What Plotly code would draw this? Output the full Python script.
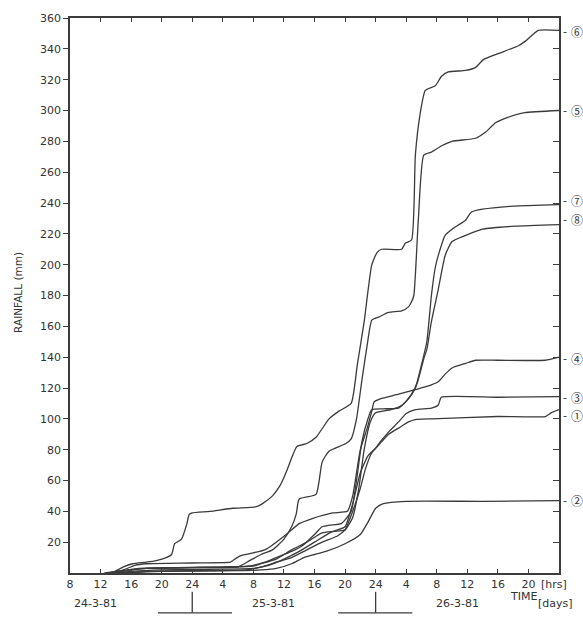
import plotly.graph_objects as go

# ---- data (hours counted from 00:00 on 24-3-81, cumulative rainfall in mm) ----
h6 = [13.5, 15.0, 16.2, 18.0, 19.3, 20.6, 21.3, 21.7, 22.6, 23.3, 23.6, 24.0, 26.3, 29.3, 32.4, 33.2, 34.5, 35.4, 36.0, 36.5,
      37.7, 39.0, 40.2, 41.9, 43.2, 44.8, 45.6, 46.5, 47.5, 48.2, 48.8, 51.4, 51.9, 52.7, 53.2, 53.8, 54.5, 55.8, 56.6, 57.5,
      59.8, 61.1, 62.1, 64.1, 66.7, 67.6, 69.3, 72.0]
r6 = [0, 4, 6, 7, 8, 10, 12, 19, 22, 32, 38, 39, 40, 42, 43, 45, 50, 56, 62, 68,
      82, 84, 88, 100, 105, 110, 135, 163, 200, 208, 210, 210, 214, 216, 271, 297, 313, 316, 322, 325,
      326, 328, 333, 337, 342, 345, 352, 352]

h5 = [14.0, 16.0, 18.0, 24.0, 30.0, 31.5, 33.0, 34.5, 36.0, 37.0, 37.6, 38.0, 40.2, 41.0, 41.9, 44.1, 44.8, 45.5, 46.2, 46.9,
      47.5, 48.4, 49.7, 51.4, 52.3, 52.7, 53.0, 53.6, 54.3, 55.3, 56.6, 58.0, 61.1, 62.4, 63.7, 65.3, 67.5, 72.0]
r5 = [0, 2, 3, 3.5, 4, 8, 12, 15, 22, 30, 38, 48, 51, 72, 79, 84, 87, 100, 125, 148,
      164, 166, 169, 170, 172.6, 176, 180, 230, 271, 273, 277, 280, 282, 286, 292, 295.5, 298.6, 300]

h7 = [12.5, 14.0, 16.0, 18.0, 24.0, 30.0, 32.0, 33.5, 35.0, 37.0, 38.5, 40.0, 41.0, 42.0, 43.5, 44.8, 45.5, 46.2, 47.0, 47.5,
      49.0, 51.0, 52.3, 53.2, 54.0, 54.7, 55.3, 55.8, 56.2, 57.1, 58.0, 59.8, 60.5, 62.0, 66.0, 72.0]
r7 = [0, 1, 2, 3, 3.5, 4, 5, 7, 10, 14, 18, 25, 30, 31, 32, 40, 60, 85, 100, 106,
      106.5, 107, 113, 120, 135, 150, 180, 198, 206, 219, 223, 229, 234, 236, 238, 239]

h8 = [13.0, 15.0, 17.0, 22.0, 28.0, 32.0, 33.0, 35.0, 37.0, 39.0, 41.0, 42.5, 44.0, 45.0, 45.8, 46.5, 47.3, 48.0, 50.0, 51.5,
      52.7, 53.5, 54.3, 54.7, 55.3, 56.2, 57.1, 58.0, 59.8, 62.0, 66.3, 72.0]
r8 = [0, 1.5, 3, 3.5, 4, 4.5, 6, 9, 15, 20, 26, 27, 28, 36, 55, 80, 98, 104, 106, 109,
      116, 124, 139, 145, 163, 184, 206, 215, 219, 223, 225, 226]

h4 = [13.5, 15.0, 16.5, 18.0, 24.0, 29.0, 29.3, 30.2, 32.8, 33.7, 36.3, 38.0, 39.8, 42.4, 44.3, 45.0, 46.0, 46.9, 47.5, 47.8,
      48.6, 51.0, 53.2, 54.7, 55.3, 56.2, 57.1, 58.0, 59.8, 61.1, 64.0, 70.2, 72.0]
r4 = [0, 2, 5, 6, 6.5, 7, 8, 11, 14, 15.5, 25, 32, 35.5, 39, 40, 50, 80, 94, 105, 111,
      113, 116, 119, 121, 122, 124, 129, 133, 136, 138, 138, 138, 140]

h3 = [14.0, 16.0, 20.0, 28.0, 32.0, 34.0, 36.0, 38.0, 40.0, 42.0, 43.0, 44.0, 45.0, 46.0, 47.0, 48.0, 48.6, 49.8, 51.0, 52.0,
      53.2, 55.3, 56.2, 56.6, 64.0, 72.0]
r3 = [0, 1, 2, 2.5, 3, 5, 9, 14, 20, 26, 28, 30, 45, 65, 76, 81, 85, 92, 98, 103.5,
      106, 107, 109, 114, 114, 114.4]

h1 = [14.5, 18.0, 24.0, 31.0, 33.0, 35.0, 37.0, 39.0, 41.0, 43.0, 44.0, 45.0, 46.0, 46.7, 47.5, 48.4, 49.7, 51.0, 52.3, 53.2,
      55.3, 64.0, 70.2, 71.0, 72.0]
r1 = [0, 1, 1.5, 2, 4, 7, 10, 15, 20, 24, 28, 40, 55, 68, 78, 83, 90, 94, 98, 99.5,
      100, 101.5, 101.5, 104, 106]

h2 = [15.0, 20.0, 30.0, 33.0, 35.0, 37.0, 38.6, 40.0, 41.5, 44.0, 46.0, 47.0, 48.0, 49.0, 52.0, 62.0, 72.0]
r2 = [0, 1, 1.5, 2, 3, 6, 10, 12, 14, 19, 25, 33, 42, 45, 46.5, 46.5, 47]

series = [("6", h6, r6), ("5", h5, r5), ("7", h7, r7), ("8", h8, r8),
          ("4", h4, r4), ("3", h3, r3), ("1", h1, r1), ("2", h2, r2)]

# right-hand station markers: label, y position (mm)
marker_labels = ["⑥", "⑤", "⑦", "⑧", "④", "③", "①", "②"]
marker_y = [351.5, 300, 241.5, 229.5, 139, 114, 102, 47]

x_tickvals = list(range(8, 72, 4))
x_ticktext = ["8", "12", "16", "20", "24", "4", "8", "12", "16", "20", "24", "4", "8", "12", "16", "20"]
y_tickvals = list(range(20, 361, 20))
day_labels = ["24-3-81", "25-3-81", "26-3-81"]
day_centers = [11.3, 34.6, 58.7]

LINE = "#3a3a3a"
AX = "#3c3c3c"
FONT = "DejaVu Sans"

fig = go.Figure()
for name, hx, ry in series:
    fig.add_trace(go.Scatter(x=hx, y=ry, mode="lines", name=name,
                             line=dict(color=LINE, width=1.3, shape="spline", smoothing=0.5),
                             showlegend=False, hoverinfo="skip"))
# helper trace for right axis
fig.add_trace(go.Scatter(x=[None], y=[None], yaxis="y2", showlegend=False, hoverinfo="skip"))

fig.update_layout(
    width=583, height=621,
    margin=dict(l=70, r=24, t=15, b=48),
    paper_bgcolor="white", plot_bgcolor="white",
    font=dict(family=FONT, size=11, color="#333"),
    xaxis=dict(range=[8, 72], tickvals=x_tickvals, ticktext=x_ticktext,
               ticks="inside", ticklen=4, tickcolor=AX, tickwidth=1,
               showline=True, linecolor=AX, linewidth=1.6, mirror="ticks",
               showgrid=False, zeroline=False, tickfont=dict(size=11, family=FONT, color="#333")),
    yaxis=dict(range=[0, 360], tickvals=y_tickvals,
               ticks="outside", ticklen=5, tickcolor=AX, tickwidth=1,
               showline=True, linecolor=AX, linewidth=1.6, mirror=True,
               showgrid=False, zeroline=False, tickfont=dict(size=11, family=FONT, color="#333")),
    yaxis2=dict(range=[0, 360], tickvals=y_tickvals, overlaying="y", side="right",
                ticks="inside", ticklen=6, tickcolor=AX, tickwidth=1,
                showticklabels=False, showline=False, showgrid=False, zeroline=False),
)

ann = []
ann.append(dict(text="RAINFALL (mm)", xref="paper", yref="paper", x=-0.106, y=0.505,
                xanchor="center", yanchor="middle",
                textangle=-90, showarrow=False, font=dict(size=10.5, family=FONT, color="#333")))
for lab, yv in zip(marker_labels, marker_y):
    ann.append(dict(text="-", xref="paper", yref="y", x=1.013, y=yv, showarrow=False,
                    xanchor="center", yanchor="middle", font=dict(size=11, family=FONT, color="#333")))
    ann.append(dict(text=lab, xref="paper", yref="y", x=1.022, y=yv, showarrow=False,
                    xanchor="left", yanchor="middle", borderpad=0,
                    font=dict(size=12, family="Noto Sans CJK JP", color="#333")))
for lab, xc in zip(day_labels, day_centers):
    ann.append(dict(text=lab, xref="paper", yref="paper", x=(xc - 8) / 64, y=-0.0556, showarrow=False,
                    xanchor="center", yanchor="middle", font=dict(size=11, family=FONT, color="#333")))
ann.append(dict(text="TIME", xref="paper", yref="paper", x=0.928, y=-0.043, showarrow=False,
                xanchor="center", yanchor="middle", font=dict(size=11, family=FONT, color="#333")))
ann.append(dict(text="[hrs]", xref="paper", yref="paper", x=0.99, y=-0.0215, showarrow=False,
                xanchor="center", yanchor="middle", font=dict(size=11, family=FONT, color="#333")))
ann.append(dict(text="[days]", xref="paper", yref="paper", x=0.993, y=-0.0556, showarrow=False,
                xanchor="center", yanchor="middle", font=dict(size=11, family=FONT, color="#333")))
fig.update_layout(annotations=ann)

shapes = []
for x0, xm, x1 in [(19.5, 24.0, 29.2), (43.1, 48.0, 52.8)]:
    shapes.append(dict(type="line", xref="paper", yref="paper", x0=(x0 - 8) / 64, x1=(x1 - 8) / 64,
                       y0=-0.0717, y1=-0.0717, line=dict(color=AX, width=1.3)))
    shapes.append(dict(type="line", xref="paper", yref="paper", x0=(xm - 8) / 64, x1=(xm - 8) / 64,
                       y0=-0.034, y1=-0.0717, line=dict(color=AX, width=1.3)))
fig.update_layout(shapes=shapes)

fig.write_html("out.html")
